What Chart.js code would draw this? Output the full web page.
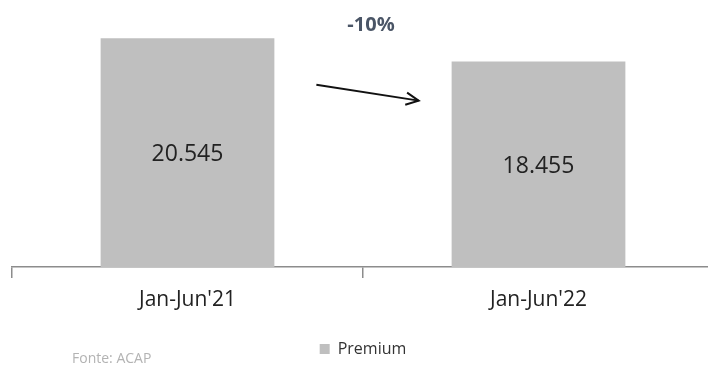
<!DOCTYPE html>
<html>
<head>
<meta charset="utf-8">
<script src="https://cdn.jsdelivr.net/npm/chart.js@4.4.1/dist/chart.umd.min.js"></script>
<style>
    html, body { margin: 0; padding: 0; background: #fff; overflow: hidden; }
    #wrap { position: relative; width: 714px; height: 367px; }
</style>
</head>
<body>
<div id="wrap"><canvas id="premiumChart"></canvas></div>
<script>
// Dados
const categories = ["Jan-Jun'21", "Jan-Jun'22"];
const premiumValues = [20545, 18455];
const seriesName = 'Premium';
const sourceNote = 'Fonte: ACAP';

const barColor = '#bfbfbf';
const axisColor = '#8c8c8c';
const fontFamily = "'Open Sans', 'Noto Sans', sans-serif";

// Formato 20.545
function formatValue(v) {
    return v.toLocaleString('de-DE');
}

// Rótulos dentro das barras + seta e variação entre os períodos
const overlayPlugin = {
    id: 'overlay',
    afterDatasetsDraw(chart) {
        const ctx = chart.ctx;
        const meta = chart.getDatasetMeta(0);
        const area = chart.chartArea;
        const yScale = chart.scales.y;

        ctx.save();
        ctx.fillStyle = '#222';
        ctx.font = '23px ' + fontFamily;
        ctx.textAlign = 'center';
        ctx.textBaseline = 'middle';
        meta.data.forEach((bar, i) => {
            const midY = (bar.y + bar.base) / 2;
            ctx.fillText(formatValue(premiumValues[i]), bar.x, midY + 2);
        });

        // seta
        const b1 = meta.data[0], b2 = meta.data[1];
        const x1 = b1.x + b1.width / 2 + 42;
        const x2 = b2.x - b2.width / 2 - 33;
        const y1 = yScale.getPixelForValue(premiumValues[0] * 0.797);
        const y2 = yScale.getPixelForValue(premiumValues[1] * 0.81);
        ctx.strokeStyle = '#111';
        ctx.lineWidth = 2;
        ctx.beginPath();
        ctx.moveTo(x1, y1);
        ctx.lineTo(x2, y2);
        ctx.stroke();
        const ang = Math.atan2(y2 - y1, x2 - x1);
        const head = 14;
        ctx.beginPath();
        ctx.moveTo(x2 - head * Math.cos(ang - 0.45), y2 - head * Math.sin(ang - 0.45));
        ctx.lineTo(x2, y2);
        ctx.lineTo(x2 - head * Math.cos(ang + 0.45), y2 - head * Math.sin(ang + 0.45));
        ctx.stroke();

        // variação percentual
        const change = Math.round((premiumValues[1] - premiumValues[0]) / premiumValues[0] * 100);
        ctx.fillStyle = '#4a5566';
        ctx.font = 'bold 20px ' + fontFamily;
        ctx.fillText((change > 0 ? '+' : '') + change + '%', (b1.x + b2.x) / 2 + 8, area.top + 14);

        // fonte
        ctx.fillStyle = '#b3b3b3';
        ctx.font = '14px ' + fontFamily;
        ctx.textAlign = 'left';
        ctx.fillText(sourceNote, 72, 359);
        ctx.restore();
    }
};

const ctx = document.getElementById('premiumChart').getContext('2d');
const premiumChart = new Chart(ctx, {
    type: 'bar',
    data: {
        labels: categories,
        datasets: [{
            label: seriesName,
            data: premiumValues,
            backgroundColor: barColor,
            borderWidth: 0,
            categoryPercentage: 0.5,
            barPercentage: 0.99
        }]
    },
    options: {
        responsive: true,
        maintainAspectRatio: false,
        animation: false,
        layout: {
            padding: { left: 12, right: 0, top: 11, bottom: 0 }
        },
        scales: {
            x: {
                grid: {
                    offset: true,
                    drawOnChartArea: false,
                    drawTicks: true,
                    tickLength: 11,
                    color: axisColor,
                    lineWidth: 1.5
                },
                border: { display: true, color: axisColor, width: 1.5 },
                ticks: {
                    color: '#222',
                    padding: 9,
                    font: { family: fontFamily, size: 21 }
                },
                afterFit(scale) {
                    scale.height = 62;
                }
            },
            y: {
                display: false,
                min: 0,
                max: 23000
            }
        },
        plugins: {
            legend: {
                position: 'bottom',
                labels: {
                    color: '#333',
                    boxWidth: 10,
                    boxHeight: 10,
                    padding: 12,
                    font: { family: fontFamily, size: 16 }
                }
            },
            tooltip: { enabled: false }
        }
    },
    plugins: [overlayPlugin]
});
</script>
</body>
</html>
